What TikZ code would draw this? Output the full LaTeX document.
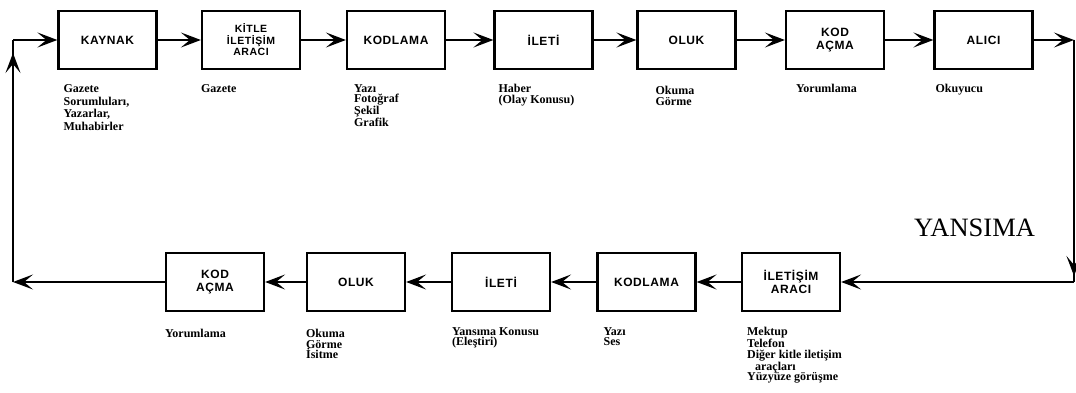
\documentclass[tikz,border=0pt]{standalone}
\usepackage{fontspec}
\setmainfont{Liberation Serif}
\newfontfamily\boxfont[LetterSpace=5]{Liberation Sans}
\usetikzlibrary{arrows.meta,positioning}

\begin{document}
\begin{tikzpicture}[
    x=1pt,y=-1pt,
    stage/.style={draw,line width=2.2pt,minimum width=98pt,minimum height=58pt,
      align=center,inner sep=2pt,font=\boxfont\bfseries\fontsize{12}{13.5}\selectfont},
    note/.style={align=left,inner sep=0pt,font=\bfseries\fontsize{12}{10.5}\selectfont},
    con/.style={line width=1.9pt},
    arr/.style={con,-{Stealth[length=20pt,width=15pt,inset=9pt]}}
    ]

    \useasboundingbox (0,0) rectangle (1076,393);

    % upper chain
    \node (kaynak) [stage] at (107.5,40) {KAYNAK};
    \node (kitle) [stage,font=\boxfont\bfseries\fontsize{10.5}{11.5}\selectfont] at (251,40) {KİTLE\\İLETİŞİM\\ARACI};
    \node (kodlama) [stage] at (396,40) {KODLAMA};
    \node (ileti) [stage] at (543.5,40) {İLETİ};
    \node (oluk) [stage] at (686.5,40) {OLUK};
    \node (kodacma) [stage] at (835,40) {KOD\\AÇMA};
    \node (alici) [stage] at (983.5,40) {ALICI};

    % lower chain
    \node (aracB) [stage] at (791,282) {İLETİŞİM\\ARACI};
    \node (kodlamaB) [stage] at (646.5,282) {KODLAMA};
    \node (iletiB) [stage] at (501,282) {İLETİ};
    \node (olukB) [stage] at (356,282) {OLUK};
    \node (kodacmaB) [stage] at (215,282) {KOD\\AÇMA};

    \node (yansima) [anchor=base west,inner sep=0pt,font=\fontsize{26.5}{28}\selectfont] at (914,236) {YANSIMA};

    % notes
    \node [note,below right=14pt and 6pt of kaynak.south west,font=\bfseries\fontsize{12}{12.8}\selectfont] {Gazete\\Sorumluları,\\Yazarlar,\\Muhabirler};
    \node [note,below right=14pt and 0pt of kitle.south west] {Gazete};
    \node [note,below right=14pt and 8pt of kodlama.south west] {Yazı\\Fotoğraf\\Şekil\\Grafik};
    \node [note,below right=14pt and 5pt of ileti.south west] {Haber\\(Olay Konusu)};
    \node [note,below right=16pt and 19pt of oluk.south west] {Okuma\\Görme};
    \node [note,below right=14pt and 11pt of kodacma.south west] {Yorumlama};
    \node [note,below right=14pt and 2pt of alici.south west] {Okuyucu};

    \node [note,below right=15pt and 6pt of aracB.south west] {Mektup\\Telefon\\Diğer kitle iletişim\\\hspace*{8pt}araçları\\Yüzyüze görüşme};
    \node [note,below right=15pt and 7pt of kodlamaB.south west] {Yazı\\Ses};
    \node [note,below right=15pt and 1pt of iletiB.south west] {Yansıma Konusu\\(Eleştiri)};
    \node [note,below right=17pt and 0pt of olukB.south west] {Okuma\\Görme\\İsitme};
    \node [note,below right=17pt and 0pt of kodacmaB.south west] {Yorumlama};

    % corners of the loop
    \coordinate (tr) at (1074,40);
    \coordinate (br) at (1074,282);
    \coordinate (bl) at (13,282);
    \coordinate (tl) at (13,40);

    \foreach \a/\b in {kaynak/kitle,kitle/kodlama,kodlama/ileti,ileti/oluk,oluk/kodacma,kodacma/alici}
      \draw[arr] (\a) -- (\b);
    \foreach \a/\b in {aracB/kodlamaB,kodlamaB/iletiB,iletiB/olukB,olukB/kodacmaB}
      \draw[arr] (\a) -- (\b);

    \draw[arr] (alici) -- (tr);
    \draw[con] (tr) -- (br);
    \draw[arr,shorten >=6pt] (tr) -- (br);
    \draw[arr] (br) -- (aracB);
    \draw[arr] (kodacmaB) -- (bl);
    \draw[con] (bl) -- (tl);
    \draw[arr,shorten >=13pt] (bl) -- (tl);
    \draw[arr] (tl) -- (kaynak);

  \end{tikzpicture}
\end{document}
